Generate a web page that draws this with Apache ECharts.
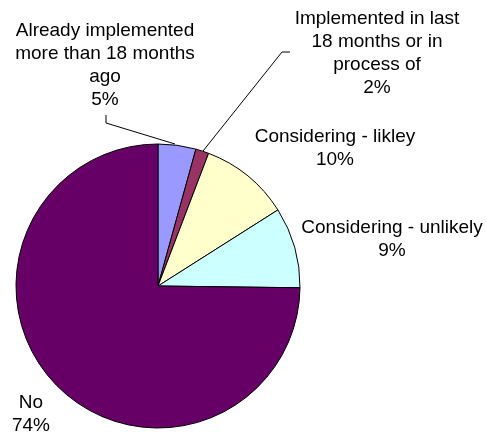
<!DOCTYPE html>
<html><head><meta charset="utf-8">
<script src="https://cdn.jsdelivr.net/npm/echarts@6/dist/echarts.min.js"></script>
<style>html,body{margin:0;padding:0;background:#fff}#c{width:486px;height:438px}</style>
</head><body><div id="c"></div>
<script>
var categories = ['Already implemented\nmore than 18 months\nago', 'Implemented in last\n18 months or in\nprocess of', 'Considering - likley', 'Considering - unlikely', 'No'];
var values = [4.3, 1.5, 10.2, 9.2, 74.8];
var percentLabels = ['5%', '2%', '10%', '9%', '74%'];
var colors = ['#9999FF', '#993366', '#FFFFCC', '#CCFFFF', '#660066'];
var labelPos = [[105, 65], [377, 53], [335, 148], [392, 239], [31, 414]];
var leaderLines = [
  [[106, 115], [106, 123], [175, 144]],
  [[290, 52], [282, 52], [203, 151]],
  null, null, null
];
var chart = echarts.init(document.getElementById('c'), null, {renderer: 'canvas'});
chart.setOption({
  animation: false,
  series: [{
    type: 'pie',
    center: [158, 286],
    radius: 142,
    startAngle: 90,
    clockwise: true,
    avoidLabelOverlap: false,
    data: categories.map(function (n, i) {
      return {
        name: n, value: values[i],
        itemStyle: {color: colors[i]},
        labelLine: {show: !!leaderLines[i], lineStyle: {color: '#000', width: 1}}
      };
    }),
    itemStyle: {borderColor: '#000', borderWidth: 1},
    label: {
      show: true, position: 'outside', color: '#000',
      fontFamily: 'Liberation Sans, Arial, sans-serif', fontSize: 19, lineHeight: 23,
      align: 'center',
      formatter: function (p) { return p.name + '\n' + percentLabels[p.dataIndex]; }
    },
    labelLayout: function (p) {
      var i = p.dataIndex;
      var r = {x: labelPos[i][0], y: labelPos[i][1], align: 'center', verticalAlign: 'middle'};
      if (leaderLines[i]) r.labelLinePoints = leaderLines[i];
      return r;
    },
    emphasis: {disabled: true}
  }]
});
</script></body></html>
